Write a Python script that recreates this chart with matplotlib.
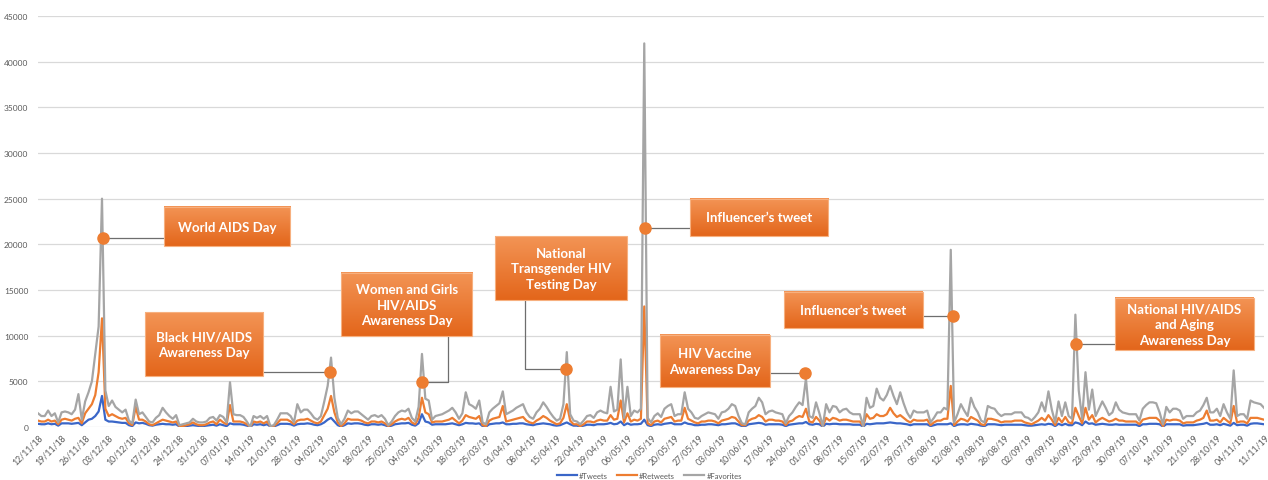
import numpy as np
import pandas as pd
import matplotlib
matplotlib.use("Agg")
import matplotlib.pyplot as plt
from matplotlib.patches import Rectangle
from matplotlib.colors import LinearSegmentedColormap

plt.rcParams["font.family"] = ["Lato", "DejaVu Sans"]

# ===== DATA (daily counts, in thousands) =====
start_date = "2018-11-12"

tweets_k = [
    0.35, 0.3, 0.3, 0.4, 0.3, 0.35, 0.15,
    0.4, 0.4, 0.4, 0.35, 0.4, 0.45, 0.2,
    0.5, 0.8, 0.9, 1.2, 1.7, 3.4, 0.8,
    0.6, 0.6, 0.55, 0.5, 0.45, 0.45, 0.2,
    0.1, 0.5, 0.4, 0.45, 0.35, 0.2, 0.15,
    0.25, 0.3, 0.35, 0.3, 0.3, 0.25, 0.3,
    0.05, 0.05, 0.1, 0.15, 0.2, 0.15, 0.1,
    0.1, 0.15, 0.2, 0.25, 0.15, 0.3, 0.2,
    0.1, 0.4, 0.3, 0.3, 0.3, 0.25, 0.15,
    0.0, 0.3, 0.25, 0.3, 0.2, 0.3, 0.05,
    0.05, 0.2, 0.35, 0.35, 0.35, 0.3, 0.15,
    0.3, 0.35, 0.35, 0.4, 0.35, 0.25, 0.2,
    0.3, 0.5, 0.8, 1.0, 0.6, 0.2, 0.05,
    0.2, 0.4, 0.35, 0.4, 0.4, 0.35, 0.25,
    0.2, 0.3, 0.3, 0.25, 0.3, 0.2, 0.05,
    0.15, 0.3, 0.35, 0.4, 0.4, 0.45, 0.25,
    0.15, 0.4, 1.4, 0.6, 0.5, 0.25, 0.3,
    0.3, 0.3, 0.3, 0.35, 0.4, 0.3, 0.2,
    0.3, 0.45, 0.4, 0.4, 0.35, 0.4, 0.1,
    0.05, 0.3, 0.35, 0.4, 0.4, 0.5, 0.3,
    0.3, 0.35, 0.35, 0.4, 0.4, 0.3, 0.25,
    0.2, 0.3, 0.35, 0.4, 0.35, 0.3, 0.2,
    0.15, 0.2, 0.35, 0.5, 0.3, 0.15, 0.15,
    0.05, 0.15, 0.25, 0.25, 0.2, 0.3, 0.3,
    0.3, 0.35, 0.45, 0.3, 0.35, 0.6, 0.2,
    0.4, 0.25, 0.3, 0.3, 0.35, 0.8, 0.2,
    0.1, 0.25, 0.3, 0.25, 0.35, 0.4, 0.45,
    0.3, 0.3, 0.3, 0.5, 0.35, 0.3, 0.2,
    0.2, 0.25, 0.25, 0.3, 0.3, 0.25, 0.2,
    0.3, 0.3, 0.35, 0.4, 0.4, 0.25, 0.1,
    0.1, 0.3, 0.35, 0.4, 0.45, 0.4, 0.25,
    0.3, 0.3, 0.3, 0.3, 0.25, 0.1, 0.25,
    0.3, 0.35, 0.4, 0.4, 0.55, 0.3, 0.25,
    0.35, 0.3, 0.05, 0.35, 0.3, 0.35, 0.35,
    0.3, 0.3, 0.3, 0.3, 0.25, 0.25, 0.25,
    0.05, 0.35, 0.3, 0.35, 0.4, 0.4, 0.4,
    0.45, 0.5, 0.45, 0.4, 0.4, 0.35, 0.3,
    0.2, 0.3, 0.3, 0.3, 0.3, 0.3, 0.1,
    0.2, 0.3, 0.3, 0.3, 0.3, 0.4, 0.1,
    0.25, 0.3, 0.3, 0.25, 0.35, 0.3, 0.25,
    0.15, 0.1, 0.3, 0.3, 0.3, 0.25, 0.2,
    0.25, 0.25, 0.25, 0.25, 0.25, 0.25, 0.2,
    0.15, 0.15, 0.2, 0.25, 0.3, 0.25, 0.35,
    0.3, 0.1, 0.35, 0.2, 0.35, 0.2, 0.2,
    0.5, 0.4, 0.2, 0.6, 0.35, 0.4, 0.25,
    0.3, 0.35, 0.3, 0.25, 0.25, 0.3, 0.25,
    0.25, 0.25, 0.25, 0.25, 0.25, 0.1, 0.3,
    0.3, 0.35, 0.35, 0.35, 0.3, 0.05, 0.3,
    0.3, 0.3, 0.3, 0.3, 0.15, 0.2, 0.2,
    0.2, 0.25, 0.3, 0.35, 0.45, 0.25, 0.25,
    0.3, 0.2, 0.35, 0.25, 0.15, 0.45, 0.2,
    0.25, 0.25, 0.15, 0.35, 0.4, 0.4, 0.35,
    0.3,
]

retweets_k = [
    0.7, 0.6, 0.6, 0.8, 0.6, 0.7, 0.3,
    0.8, 0.9, 0.8, 0.7, 0.9, 1.0, 0.4,
    1.5, 2.0, 2.5, 3.5, 6.0, 11.9, 2.0,
    1.2, 1.4, 1.2, 1.0, 0.9, 1.0, 0.4,
    0.2, 2.2, 0.8, 0.8, 0.6, 0.3, 0.2,
    0.4, 0.6, 0.8, 0.7, 0.6, 0.5, 0.6,
    0.1, 0.1, 0.2, 0.3, 0.5, 0.3, 0.2,
    0.2, 0.3, 0.5, 0.6, 0.3, 0.8, 0.5,
    0.3, 2.4, 0.6, 0.6, 0.6, 0.5, 0.3,
    0.0, 0.6, 0.5, 0.6, 0.4, 0.6, 0.1,
    0.1, 0.4, 0.8, 0.8, 0.8, 0.6, 0.3,
    0.7, 0.8, 0.8, 0.9, 0.7, 0.5, 0.4,
    0.6, 1.3, 2.0, 3.4, 1.6, 0.5, 0.1,
    0.4, 0.9, 0.8, 0.8, 0.8, 0.7, 0.5,
    0.4, 0.6, 0.6, 0.5, 0.6, 0.4, 0.1,
    0.3, 0.6, 0.8, 0.9, 0.8, 1.0, 0.5,
    0.3, 1.0, 3.2, 1.6, 1.4, 0.5, 0.6,
    0.6, 0.6, 0.7, 0.8, 1.0, 0.7, 0.4,
    0.7, 1.3, 1.1, 1.0, 0.9, 1.2, 0.2,
    0.1, 0.7, 0.9, 1.0, 1.1, 2.3, 0.6,
    0.7, 0.8, 0.9, 1.0, 1.1, 0.7, 0.5,
    0.4, 0.7, 0.9, 1.2, 1.0, 0.7, 0.5,
    0.3, 0.4, 1.0, 2.5, 0.7, 0.3, 0.3,
    0.1, 0.3, 0.6, 0.6, 0.5, 0.7, 0.8,
    0.7, 0.7, 1.3, 0.8, 0.9, 2.9, 0.5,
    1.5, 0.6, 0.8, 0.7, 0.9, 13.2, 0.4,
    0.2, 0.6, 0.7, 0.5, 0.9, 1.0, 1.1,
    0.6, 0.7, 0.7, 2.1, 0.9, 0.7, 0.5,
    0.4, 0.6, 0.6, 0.7, 0.7, 0.6, 0.4,
    0.7, 0.8, 0.9, 1.1, 1.0, 0.6, 0.2,
    0.2, 0.7, 0.9, 1.0, 1.3, 1.1, 0.6,
    0.8, 0.8, 0.7, 0.7, 0.6, 0.2, 0.6,
    0.7, 1.0, 1.2, 1.1, 2.0, 0.6, 0.5,
    1.1, 0.7, 0.1, 1.0, 0.7, 1.0, 0.9,
    0.7, 0.8, 0.8, 0.7, 0.6, 0.6, 0.6,
    0.1, 1.4, 0.9, 1.0, 1.4, 1.2, 1.2,
    1.4, 2.1, 1.5, 1.1, 1.3, 1.0, 0.7,
    0.5, 0.8, 0.7, 0.7, 0.7, 0.8, 0.2,
    0.5, 0.7, 0.7, 0.9, 0.9, 4.5, 0.2,
    0.6, 0.9, 0.8, 0.6, 1.1, 0.9, 0.7,
    0.3, 0.2, 0.9, 0.9, 0.8, 0.7, 0.5,
    0.6, 0.6, 0.6, 0.7, 0.7, 0.7, 0.5,
    0.4, 0.3, 0.5, 0.7, 1.0, 0.7, 1.3,
    0.8, 0.2, 1.0, 0.5, 1.1, 0.5, 0.4,
    2.1, 1.2, 0.4, 2.1, 0.8, 1.3, 0.5,
    0.8, 1.0, 0.8, 0.6, 0.7, 0.9, 0.7,
    0.7, 0.6, 0.6, 0.6, 0.6, 0.3, 0.8,
    0.9, 1.0, 1.0, 1.0, 0.7, 0.1, 0.8,
    0.7, 0.8, 0.8, 0.7, 0.4, 0.5, 0.5,
    0.5, 0.7, 0.8, 1.0, 1.8, 0.7, 0.7,
    0.8, 0.5, 1.0, 0.7, 0.4, 2.3, 0.5,
    0.6, 0.6, 0.4, 1.0, 1.0, 1.0, 0.9,
    0.8,
]

favorites_k = [
    1.5, 1.2, 1.2, 1.8, 1.2, 1.5, 0.5,
    1.6, 1.7, 1.6, 1.4, 1.9, 3.6, 0.8,
    2.8, 3.8, 5.0, 8.0, 11.0, 25.0, 4.0,
    2.3, 2.9, 2.2, 1.9, 1.6, 1.9, 0.7,
    0.4, 3.0, 1.4, 1.6, 1.1, 0.6, 0.5,
    1.0, 1.3, 2.1, 1.6, 1.2, 0.9, 1.3,
    0.2, 0.3, 0.4, 0.5, 0.9, 0.6, 0.5,
    0.5, 0.6, 1.0, 1.1, 0.7, 1.3, 1.1,
    0.5, 4.9, 1.4, 1.3, 1.3, 1.1, 0.6,
    0.0, 1.2, 1.0, 1.2, 0.9, 1.2, 0.1,
    0.2, 0.8, 1.5, 1.5, 1.5, 1.2, 0.5,
    2.5, 1.6, 1.9, 1.9, 1.5, 1.0, 0.8,
    1.2, 2.8, 4.5, 7.6, 3.2, 1.0, 0.3,
    0.9, 1.8, 1.5, 1.7, 1.7, 1.4, 1.1,
    0.8, 1.2, 1.3, 1.1, 1.3, 0.9, 0.2,
    0.6, 1.2, 1.6, 1.8, 1.7, 2.0, 1.0,
    0.6, 2.2, 8.0, 3.1, 2.9, 0.8, 1.2,
    1.3, 1.4, 1.6, 1.8, 2.1, 1.6, 0.9,
    1.5, 3.8, 2.5, 2.3, 2.0, 2.9, 0.5,
    0.3, 1.6, 2.0, 2.3, 2.6, 3.9, 1.4,
    1.6, 1.8, 2.1, 2.3, 2.5, 1.6, 1.1,
    0.9, 1.6, 2.0, 2.7, 2.2, 1.6, 1.1,
    0.7, 0.9, 2.5, 8.2, 1.4, 0.7, 0.6,
    0.3, 0.7, 1.2, 1.3, 1.0, 1.6, 1.8,
    1.6, 1.5, 4.4, 1.7, 1.9, 7.4, 1.0,
    4.4, 1.2, 1.8, 1.6, 2.0, 42.0, 1.0,
    0.5, 1.2, 1.5, 1.1, 2.0, 2.3, 2.5,
    1.2, 1.4, 1.4, 3.8, 2.0, 1.6, 1.0,
    0.9, 1.2, 1.4, 1.6, 1.5, 1.4, 0.9,
    1.6, 1.7, 2.0, 2.5, 2.3, 1.2, 0.4,
    0.3, 1.6, 2.0, 2.3, 3.2, 2.7, 1.4,
    1.7, 1.8, 1.6, 1.5, 1.4, 0.4, 1.2,
    1.6, 2.2, 2.7, 2.4, 5.3, 1.2, 1.0,
    2.7, 1.5, 0.1, 2.5, 1.6, 2.3, 2.2,
    1.6, 1.9, 2.0, 1.6, 1.4, 1.4, 1.4,
    0.1, 3.2, 2.1, 2.3, 4.2, 3.2, 2.9,
    3.5, 4.5, 3.4, 2.5, 3.8, 2.6, 1.6,
    1.0, 1.8, 1.6, 1.6, 1.6, 1.8, 0.5,
    1.0, 1.6, 1.6, 2.1, 1.9, 19.4, 0.5,
    1.4, 2.5, 1.8, 1.2, 3.2, 2.2, 1.6,
    0.7, 0.5, 2.3, 2.1, 2.0, 1.5, 1.2,
    1.4, 1.4, 1.4, 1.6, 1.6, 1.6, 1.1,
    1.0, 0.7, 1.1, 1.6, 2.7, 1.7, 3.9,
    1.9, 0.5, 2.8, 1.2, 2.7, 1.2, 0.9,
    12.3, 4.0, 0.9, 6.0, 1.9, 4.1, 1.2,
    2.0, 2.8, 2.1, 1.3, 1.6, 2.7, 1.9,
    1.6, 1.5, 1.4, 1.4, 1.4, 0.7, 2.0,
    2.4, 2.7, 2.7, 2.6, 1.6, 0.3, 2.2,
    1.6, 2.0, 2.0, 1.8, 0.9, 1.2, 1.2,
    1.2, 1.6, 1.8, 2.4, 3.2, 1.6, 1.6,
    2.0, 1.2, 2.5, 1.6, 0.9, 6.2, 1.2,
    1.4, 1.4, 0.9, 2.9, 2.7, 2.6, 2.5,
    2.1,
]

series_names = ["#Tweets", "#Retweets", "#Favorites"]
series_colors = ["#3A66C8", "#ED7D31", "#A5A5A5"]

# ===== CALLOUTS (day index, value in thousands) =====
ann_labels = [
    "World AIDS Day",
    "Black HIV/AIDS\nAwareness Day",
    "Women and Girls\nHIV/AIDS\nAwareness Day",
    "National\nTransgender HIV\nTesting Day",
    "Influencer\u2019s tweet",
    "HIV Vaccine\nAwareness Day",
    "Influencer\u2019s tweet",
    "National HIV/AIDS\nand Aging\nAwareness Day",
]
ann_day = [19.2, 86.7, 113.9, 156.8, 180.2, 227.7, 271.6, 308.3]
ann_value = [20.7, 6.0, 4.9, 6.3, 21.8, 5.9, 12.2, 9.1]
# box extents: (day_left, day_right, value_bottom, value_top)
ann_box = [
    (37.3, 74.9, 19.8, 24.1),
    (31.7, 66.9, 5.6, 12.6),
    (89.9, 129.0, 10.0, 16.9),
    (135.8, 174.9, 13.9, 20.9),
    (193.5, 234.6, 20.9, 25.0),
    (184.6, 217.2, 4.4, 10.1),
    (221.6, 262.7, 10.8, 14.8),
    (319.8, 360.9, 8.4, 14.1),
]
# x of vertical leg for elbow connectors (None = straight horizontal)
ann_elbow = [None, None, 121.6, 144.7, None, None, None, None]

# ===== FIGURE =====
dates = pd.date_range(start_date, periods=len(favorites_k), freq="D")
days = np.arange(len(dates))

fig = plt.figure(figsize=(12.68, 4.81), dpi=100)
ax = fig.add_axes([38 / 1268, 53 / 481, 1226 / 1268, 411 / 481])

handles = []
for name, color, vals in zip(series_names, series_colors,
                             [tweets_k, retweets_k, favorites_k]):
    h, = ax.plot(days, np.array(vals) * 1000, color=color, lw=1.6,
                 label=name, zorder=2, solid_joinstyle="round")
    handles.append(h)

# callouts
cmap = LinearSegmentedColormap.from_list("box", ["#F39455", "#E3661B"])
grad = np.linspace(0, 1, 64).reshape(-1, 1)
for lab, d, v, box, elbow in zip(ann_labels, ann_day, ann_value,
                                 ann_box, ann_elbow):
    x0, x1, y0, y1 = box
    ax.imshow(grad, cmap=cmap, extent=(x0, x1, y0 * 1000, y1 * 1000),
              aspect="auto", origin="upper", zorder=5)
    ax.add_patch(Rectangle((x0, y0 * 1000), x1 - x0, (y1 - y0) * 1000,
                           fill=False, ec="#F7B07F", lw=0.8, zorder=6))
    ax.text((x0 + x1) / 2, (y0 + y1) / 2 * 1000, lab, color="white",
            fontsize=9.5, fontweight="bold", ha="center", va="center",
            linespacing=1.35, zorder=7)
    if elbow is None:
        edge = x0 if d < x0 else x1
        ax.plot([d, edge], [v * 1000, v * 1000], color="#6E6E6E",
                lw=0.9, zorder=4)
    else:
        ax.plot([elbow, elbow, d], [y0 * 1000, v * 1000, v * 1000],
                color="#6E6E6E", lw=0.9, zorder=4)
    ax.plot(d, v * 1000, "o", color="#ED7D31", ms=8, mec="#ED7D31",
            zorder=8)

ax.set_xlim(0, 364)
ax.set_ylim(0, 45000)
ax.set_yticks(np.arange(0, 45001, 5000))
ax.yaxis.grid(True, color="#D9D9D9", lw=0.9)
ax.set_axisbelow(True)
for s in ax.spines.values():
    s.set_visible(False)

ax.set_xticks(days[::7])
ax.set_xticklabels(dates[::7].strftime("%d/%m/%y"), rotation=45,
                   ha="right", va="top", rotation_mode="anchor")
ax.tick_params(axis="x", length=0, pad=4, labelsize=6.3, labelcolor="#595959")
ax.tick_params(axis="y", length=0, pad=7, labelsize=6, labelcolor="#595959")

leg = fig.legend(handles, series_names, loc="lower center",
                 bbox_to_anchor=(0.512, -0.012), ncol=3, frameon=False,
                 fontsize=5.5, handlelength=2.6, columnspacing=1.2,
                 handletextpad=0.3)
for t in leg.get_texts():
    t.set_color("#595959")

fig.savefig("out.png", dpi=100)
